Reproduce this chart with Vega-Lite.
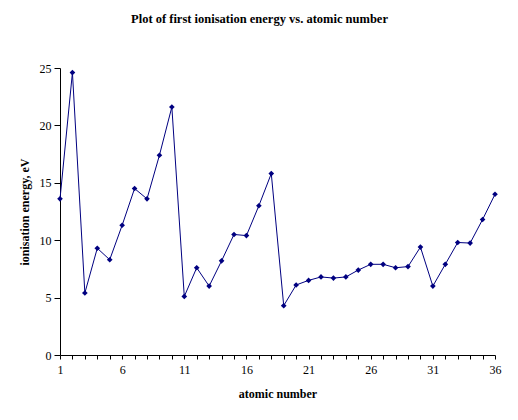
{
  "$schema": "https://vega.github.io/schema/vega-lite/v6.json",
  "autosize": "none",
  "width": 435,
  "height": 287,
  "padding": {"left": 60, "top": 68, "right": 23, "bottom": 65},
  "background": "#ffffff",
  "title": {
    "text": "Plot of first ionisation energy vs. atomic number",
    "font": "Liberation Serif",
    "fontSize": 12.5,
    "fontWeight": "bold",
    "color": "#000000",
    "anchor": "middle",
    "dx": -18,
    "offset": 37
  },
  "data": {
    "values": [
      {"z": 1, "ie": 13.6}, {"z": 2, "ie": 24.6}, {"z": 3, "ie": 5.4},
      {"z": 4, "ie": 9.3}, {"z": 5, "ie": 8.3}, {"z": 6, "ie": 11.3},
      {"z": 7, "ie": 14.5}, {"z": 8, "ie": 13.6}, {"z": 9, "ie": 17.4},
      {"z": 10, "ie": 21.6}, {"z": 11, "ie": 5.1}, {"z": 12, "ie": 7.6},
      {"z": 13, "ie": 6.0}, {"z": 14, "ie": 8.2}, {"z": 15, "ie": 10.5},
      {"z": 16, "ie": 10.4}, {"z": 17, "ie": 13.0}, {"z": 18, "ie": 15.8},
      {"z": 19, "ie": 4.3}, {"z": 20, "ie": 6.1}, {"z": 21, "ie": 6.5},
      {"z": 22, "ie": 6.8}, {"z": 23, "ie": 6.7}, {"z": 24, "ie": 6.8},
      {"z": 25, "ie": 7.4}, {"z": 26, "ie": 7.9}, {"z": 27, "ie": 7.9},
      {"z": 28, "ie": 7.6}, {"z": 29, "ie": 7.7}, {"z": 30, "ie": 9.4},
      {"z": 31, "ie": 6.0}, {"z": 32, "ie": 7.9}, {"z": 33, "ie": 9.8},
      {"z": 34, "ie": 9.75}, {"z": 35, "ie": 11.8}, {"z": 36, "ie": 14.0}
    ]
  },
  "mark": {
    "type": "line",
    "color": "#000080",
    "strokeWidth": 1,
    "point": {"shape": "diamond", "size": 32, "filled": true, "color": "#000080"}
  },
  "encoding": {
    "x": {
      "field": "z",
      "type": "quantitative",
      "scale": {"domain": [1, 36], "nice": false, "zero": false},
      "axis": {
        "title": "atomic number",
        "values": [1, 2, 3, 4, 5, 6, 7, 8, 9, 10, 11, 12, 13, 14, 15, 16, 17, 18, 19, 20, 21, 22, 23, 24, 25, 26, 27, 28, 29, 30, 31, 32, 33, 34, 35, 36],
        "labelExpr": "(datum.value - 1) % 5 == 0 ? datum.label : ''",
        "grid": false,
        "domainColor": "#000000",
        "tickColor": "#000000",
        "tickSize": 4,
        "labelPadding": 5,
        "labelFont": "Liberation Serif",
        "labelFontSize": 12,
        "labelColor": "#000000",
        "labelFlush": false,
        "labelOverlap": false,
        "titleFont": "Liberation Serif",
        "titleFontSize": 12,
        "titleFontWeight": "bold",
        "titleColor": "#000000",
        "titlePadding": 13
      }
    },
    "y": {
      "field": "ie",
      "type": "quantitative",
      "scale": {"domain": [0, 25], "nice": false},
      "axis": {
        "title": "ionisation energy, eV",
        "values": [0, 5, 10, 15, 20, 25],
        "grid": false,
        "domainColor": "#000000",
        "tickColor": "#000000",
        "tickSize": 6,
        "labelPadding": 3,
        "labelFont": "Liberation Serif",
        "labelFontSize": 12,
        "labelColor": "#000000",
        "titleFont": "Liberation Serif",
        "titleFontSize": 12,
        "titleFontWeight": "bold",
        "titleColor": "#000000",
        "titlePadding": 8
      }
    }
  },
  "config": {
    "view": {"stroke": null}
  }
}
